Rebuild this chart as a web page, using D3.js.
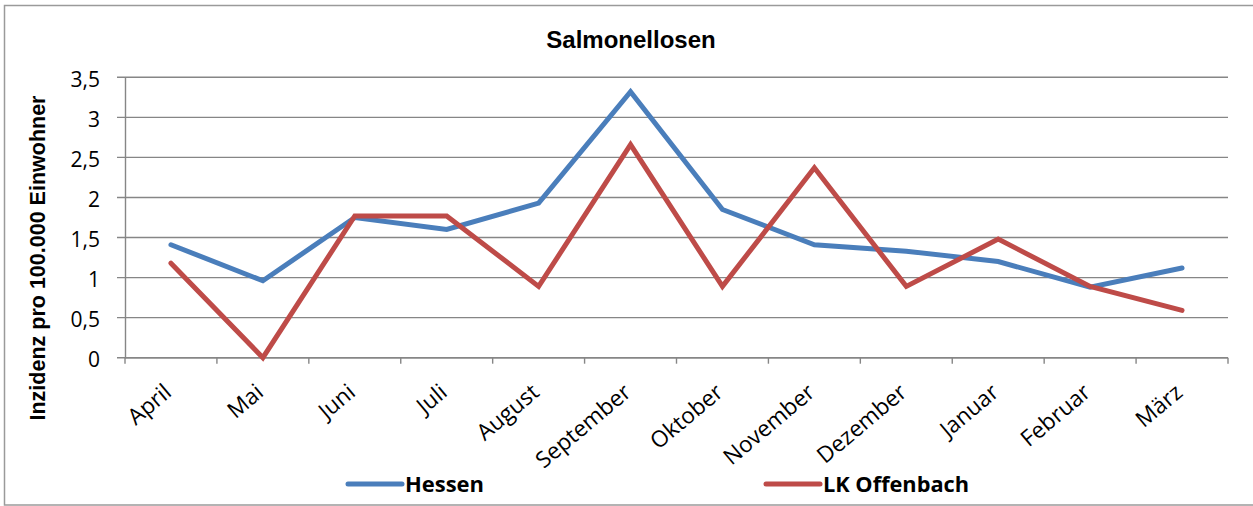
<!DOCTYPE html>
<html><head><meta charset="utf-8">
<script src="https://cdn.jsdelivr.net/npm/d3@7"></script>
<style>
html,body{margin:0;padding:0;background:#fff;}
svg{display:block;}
</style></head>
<body>
<svg id="chart" width="1253" height="506"></svg>
<script>
const months = ["April","Mai","Juni","Juli","August","September","Oktober","November","Dezember","Januar","Februar","März"];
const hessen = [1.41,0.96,1.75,1.60,1.93,3.32,1.85,1.41,1.33,1.20,0.88,1.12];
const offenbach = [1.18,0,1.77,1.77,0.89,2.66,0.89,2.37,0.89,1.48,0.89,0.59];
const yTicks = [0,0.5,1,1.5,2,2.5,3,3.5];
const seriesNames = ["Hessen","LK Offenbach"];
const seriesColors = ["#4A7EBB","#BE4B48"];

const svg = d3.select("#chart");
const m = {left:125, right:1228, top:77.3, bottom:357.7};

svg.append("rect").attr("x",4.5).attr("y",5.5).attr("width",1262).attr("height",499.5)
  .attr("fill","#fff").attr("stroke","#9a9a9a").attr("stroke-width",1.5);

const x = d3.scaleBand().domain(months).range([m.left,m.right]).padding(0);
const y = d3.scaleLinear().domain([0,3.5]).range([m.bottom,m.top]);
const fmt = v => String(v).replace(".",",");

// gridlines
svg.append("g").selectAll("line").data(yTicks).join("line")
  .attr("x1",m.left-8).attr("x2",m.right)
  .attr("y1",d=>y(d)).attr("y2",d=>y(d))
  .attr("stroke","#868686").attr("stroke-width",1.4);

// y axis
const yAxis = d3.axisLeft(y).tickValues(yTicks).tickFormat(fmt).tickSize(0).tickPadding(25);
const gy = svg.append("g").attr("transform",`translate(${m.left},0)`).call(yAxis);
gy.select(".domain").attr("stroke","#868686").attr("stroke-width",1.4);
gy.selectAll("text").attr("font-family","Open Sans").attr("font-size",21).attr("fill","#000").attr("dy","0.42em");

// x axis
svg.append("line").attr("x1",m.left).attr("x2",m.right).attr("y1",m.bottom).attr("y2",m.bottom)
  .attr("stroke","#868686").attr("stroke-width",1.4);
const bounds = months.map(d=>x(d)).concat([m.right]);
svg.append("g").selectAll("line").data(bounds).join("line")
  .attr("x1",d=>d).attr("x2",d=>d).attr("y1",m.bottom).attr("y2",m.bottom+6)
  .attr("stroke","#868686").attr("stroke-width",1.4);

svg.append("g").selectAll("text").data(months).join("text")
  .attr("transform",d=>`translate(${x(d)+x.bandwidth()/2+2},${m.bottom+37}) rotate(-40)`)
  .attr("text-anchor","end")
  .attr("font-family","Open Sans").attr("font-size",22.5).attr("fill","#000")
  .text(d=>d);

// lines
const line = d3.line().x((d,i)=>x(months[i])+x.bandwidth()/2).y(d=>y(d));
[hessen, offenbach].forEach((s,k)=>{
  svg.append("path").datum(s).attr("d",line).attr("fill","none")
    .attr("stroke",seriesColors[k]).attr("stroke-width",5)
    .attr("stroke-linejoin","miter").attr("stroke-linecap","round");
});

// title
svg.append("text").attr("x",631).attr("y",48).attr("text-anchor","middle")
  .attr("font-family","Liberation Sans").attr("font-weight","bold").attr("font-size",24)
  .text("Salmonellosen");

// y title
svg.append("text").attr("transform",`translate(45,258) rotate(-90)`).attr("text-anchor","middle")
  .attr("font-family","Liberation Sans").attr("font-weight","bold").attr("font-size",21.5)
  .text("Inzidenz pro 100.000 Einwohner");

// legend
const legX = [348, 766];
seriesNames.forEach((n,k)=>{
  svg.append("line").attr("x1",legX[k]).attr("x2",legX[k]+54).attr("y1",484).attr("y2",484)
    .attr("stroke",seriesColors[k]).attr("stroke-width",5).attr("stroke-linecap","round");
  svg.append("text").attr("x",legX[k]+57).attr("y",492)
    .attr("font-family","Open Sans").attr("font-weight","bold").attr("font-size",21.5)
    .attr("textLength", k===0 ? 79 : 146).attr("lengthAdjust","spacingAndGlyphs")
    .text(n);
});
</script>
</body></html>
